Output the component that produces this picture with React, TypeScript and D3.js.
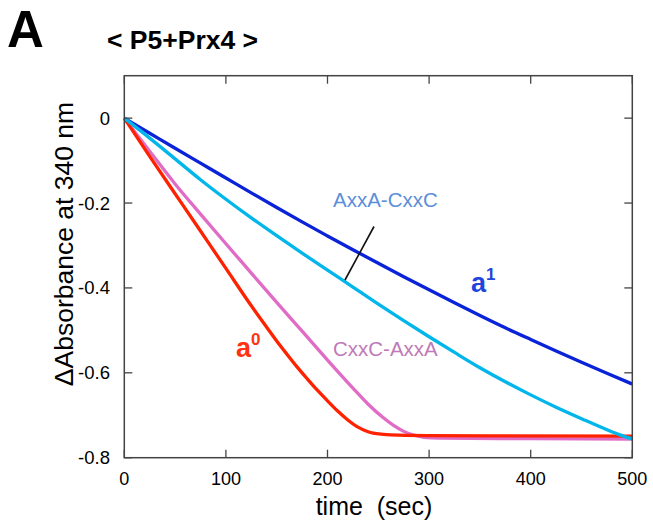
import React from "react";
import * as d3 from "d3";

// time (sec) and ΔAbsorbance readings for each construct
const a1T = [0, 25, 50, 75, 100, 125, 150, 175, 200, 225, 250, 275, 300, 325, 350, 375, 400, 425, 450, 475, 500];
const a1V = [0, -0.0355, -0.071, -0.106, -0.141, -0.176, -0.2105, -0.2445, -0.2775, -0.31, -0.342, -0.3735, -0.4045, -0.435, -0.465, -0.494, -0.5215, -0.5485, -0.575, -0.601, -0.6265];

const axxaT = [0, 25, 50, 75, 100, 125, 150, 175, 200, 225, 250, 275, 300, 325, 350, 375, 400, 425, 450, 475, 490, 500];
const axxaV = [0, -0.047, -0.096, -0.145, -0.191, -0.235, -0.277, -0.318, -0.358, -0.398, -0.438, -0.477, -0.515, -0.552, -0.588, -0.621, -0.652, -0.681, -0.708, -0.734, -0.748, -0.756];

const cxxcT = [0, 25, 50, 75, 100, 125, 150, 175, 200, 225, 240, 255, 265, 275, 285, 295, 310, 400, 500];
const cxxcV = [0, -0.078, -0.155, -0.226, -0.296, -0.365, -0.434, -0.502, -0.57, -0.636, -0.674, -0.706, -0.724, -0.738, -0.747, -0.752, -0.754, -0.755, -0.756];

const a0T = [0, 25, 50, 75, 100, 125, 140, 150, 160, 170, 180, 190, 200, 210, 220, 230, 238, 245, 255, 270, 300, 500];
const a0V = [0, -0.09, -0.178, -0.266, -0.354, -0.442, -0.492, -0.525, -0.556, -0.586, -0.614, -0.641, -0.666, -0.69, -0.711, -0.728, -0.737, -0.742, -0.745, -0.747, -0.748, -0.749];

const xTicks = [0, 100, 200, 300, 400, 500];
const yTicks = [0, -0.2, -0.4, -0.6, -0.8];

const W = 653;
const H = 529;
const L = 124.3, R = 632.3, T = 75.7, B = 457.7;

export default function App() {
  const x = d3.scaleLinear().domain([0, 500]).range([L, R]);
  const y = d3.scaleLinear().domain([-0.8, 0.1]).range([B, T]);
  const mk = (ts: number[], vs: number[]) =>
    d3
      .line<number>()
      .x((_, i) => x(ts[i]))
      .y((v) => y(v))
      .curve(d3.curveMonotoneX)(vs) || "";

  const series = [
    { t: a1T, v: a1V, c: "#0a22d8" },
    { t: cxxcT, v: cxxcV, c: "#e06cc6" },
    { t: a0T, v: a0V, c: "#ff2200" },
    { t: axxaT, v: axxaV, c: "#00b6ea" },
  ];
  const font = "'Liberation Sans', Arial, Helvetica, sans-serif";
  const tk = 8;
  const yFmt = (v: number) => (v === 0 ? "0" : v.toFixed(1));

  return (
    <svg
      width={W}
      height={H}
      style={{ position: "absolute", left: 0, top: 0, background: "#fff" }}
      fontFamily={font}
    >
      <text x={7} y={46.5} fontSize={51} fontWeight="bold">A</text>
      <text x={107} y={48.5} fontSize={26.5} fontWeight="bold">&lt; P5+Prx4 &gt;</text>

      {series.map((s, i) => (
        <path key={i} d={mk(s.t, s.v)} fill="none" stroke={s.c} strokeWidth={3.3} />
      ))}

      {/* frame */}
      <rect x={L} y={T} width={R - L} height={B - T} fill="none" stroke="#444" strokeWidth={1.5} />
      {xTicks.map((t) => (
        <g key={"xt" + t}>
          <line x1={x(t)} x2={x(t)} y1={B} y2={B - tk} stroke="#444" strokeWidth={1.3} />
          <line x1={x(t)} x2={x(t)} y1={T} y2={T + tk} stroke="#444" strokeWidth={1.3} />
          <text x={x(t)} y={485} fontSize={18} textAnchor="middle">{t}</text>
        </g>
      ))}
      {yTicks.map((v) => (
        <g key={"yt" + v}>
          <line x1={L} x2={L + tk} y1={y(v)} y2={y(v)} stroke="#444" strokeWidth={1.3} />
          <line x1={R} x2={R - tk} y1={y(v)} y2={y(v)} stroke="#444" strokeWidth={1.3} />
          <text x={110} y={y(v) + 6.5} fontSize={18.5} textAnchor="end">{yFmt(v)}</text>
        </g>
      ))}

      <text x={374} y={515} fontSize={25} textAnchor="middle" style={{ whiteSpace: "pre" }}>
        {"time  (sec)"}
      </text>
      <text
        transform="translate(72.5,244) rotate(-90)"
        fontSize={26.5}
        textAnchor="middle"
      >
        ΔAbsorbance at 340 nm
      </text>

      {/* annotations */}
      <text x={333} y={206.5} fontSize={20.5} fill="#5b8fd9">AxxA-CxxC</text>
      <line x1={374} y1={226.5} x2={345} y2={280} stroke="#111" strokeWidth={1.6} />
      <text x={333} y={356} fontSize={20.5} fill="#c07ab8">CxxC-AxxA</text>
      <text x={471} y={291.5} fontSize={27} fontWeight="bold" fill="#2244dd">
        a<tspan dy={-12} fontSize={17}>1</tspan>
      </text>
      <text x={236} y={356.5} fontSize={27} fontWeight="bold" fill="#ff3311">
        a<tspan dy={-12} fontSize={17}>0</tspan>
      </text>
    </svg>
  );
}
